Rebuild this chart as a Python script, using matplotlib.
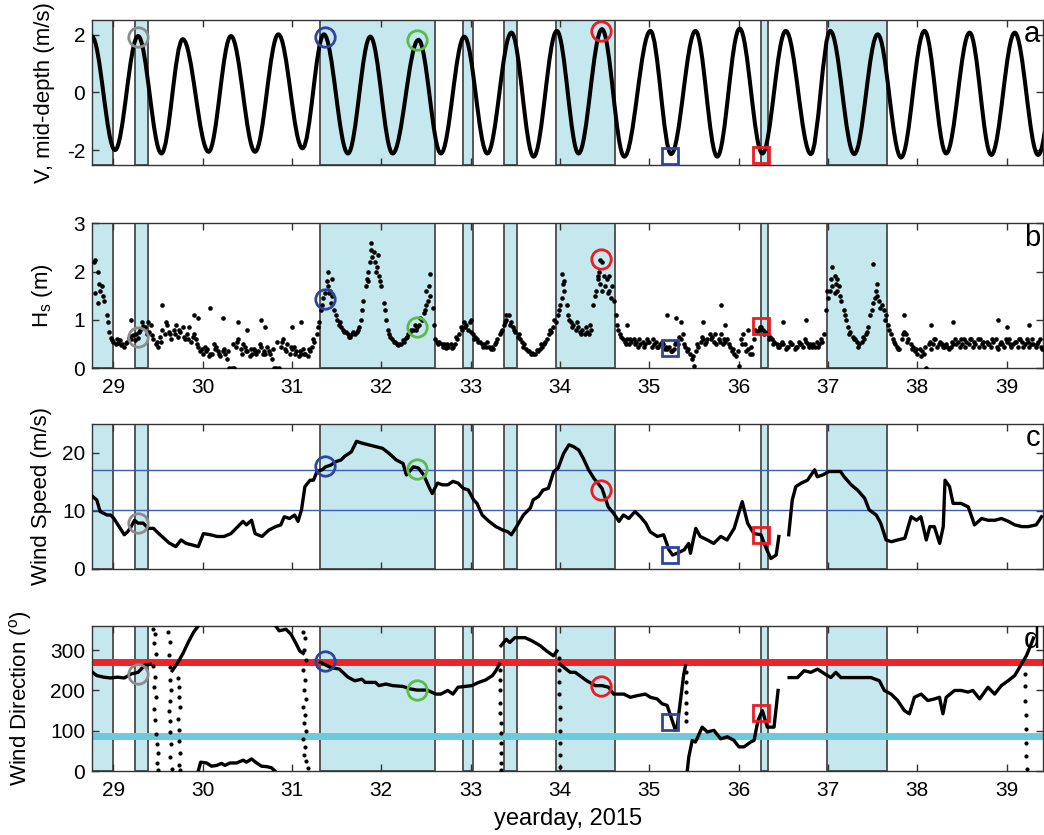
import numpy as np
import matplotlib
matplotlib.use('Agg')
import matplotlib.pyplot as plt
from matplotlib.path import Path
from matplotlib.patches import PathPatch

plt.rcParams['font.family'] = ['Liberation Sans', 'DejaVu Sans']
plt.rcParams['axes.unicode_minus'] = False
plt.rcParams['mathtext.fontset'] = 'custom'
plt.rcParams['mathtext.rm'] = 'Liberation Sans'
plt.rcParams['mathtext.it'] = 'Liberation Sans:italic'

# ---------------- data ----------------
XLIM = (28.765, 39.406)
xticks = list(range(29, 40))

shade_start = [28.60, 29.245, 31.31, 32.91, 33.375, 33.96, 36.255, 36.99]
shade_end = [29.00, 29.39, 32.60, 33.03, 33.515, 34.615, 36.33, 37.655]

# (a) mid-depth velocity: times and values of successive extrema
v_ext_t = [28.76, 29.019, 29.277, 29.539, 29.778, 30.067, 30.317, 30.587, 30.848,
           31.118, 31.357, 31.627, 31.877, 32.127, 32.416, 32.667, 32.929, 33.187,
           33.456, 33.705, 33.965, 34.208, 34.47, 34.72, 35.012, 35.244, 35.517,
           35.76, 36.011, 36.265, 36.527, 36.808, 37.025, 37.294, 37.556, 37.818,
           38.08, 38.323, 38.585, 38.828, 39.09, 39.352, 39.61]
v_ext_v = [1.95, -2.0, 1.96, -2.12, 1.85, -2.06, 1.96, -2.06, 2.02,
           -1.94, 2.02, -2.12, 1.94, -2.12, 1.83, -2.12, 1.94, -2.12,
           2.08, -2.23, 2.14, -2.12, 2.2, -2.23, 2.14, -2.14, 2.14,
           -2.23, 2.22, -2.12, 2.14, -2.14, 2.14, -2.14, 2.02, -2.26,
           2.14, -2.12, 2.08, -2.17, 2.08, -2.17, 2.0]

# (b) significant wave height, every 0.05 day from 28.80
hs_t0 = 28.80
hs_dt = 0.05
hs_v = [1.55, 1.6, 1.4, 0.75, 0.55, 0.52, 0.5, 0.55, 0.6, 0.7,
        0.8, 0.85, 0.75, 0.6, 0.45, 0.8, 0.9, 0.6, 0.9, 0.75,
        0.6, 0.85, 0.7, 0.45, 0.3, 0.4, 0.3, 0.45, 0.25, 0.3,
        0.0, 0.0, 0.6, 0.5, 0.35, 0.3, 0.3, 0.45, 0.3, 0.3,
        0.0, 0.0, 0.6, 0.5, 0.4, 0.35, 0.3, 0.3, 0.35, 0.55,
        0.95, 1.45, 1.7, 1.5, 1.0, 0.85, 0.75, 0.65, 0.7, 0.85,
        1.4, 2.0, 2.3, 2.1, 1.7, 1.0, 0.65, 0.55, 0.5, 0.55,
        0.7, 0.8, 0.85, 1.0, 1.3, 1.5, 0.6, 0.55, 0.5, 0.45,
        0.45, 0.6, 0.8, 0.9, 0.75, 0.65, 0.55, 0.5, 0.45, 0.4,
        0.6, 0.8, 1.0, 0.95, 0.75, 0.6, 0.5, 0.35, 0.3, 0.35,
        0.45, 0.6, 0.75, 0.95, 1.3, 1.6, 1.0, 0.9, 0.85, 0.8,
        0.75, 0.8, 1.6, 1.75, 1.7, 1.6, 1.4, 0.8, 0.6, 0.6,
        0.55, 0.55, 0.5, 0.5, 0.55, 0.5, 0.45, 0.5, 0.4, 0.35,
        0.55, 0.6, 0.45, 0.3, 0.05, 0.45, 0.6, 0.6, 0.65, 0.5,
        0.7, 0.55, 0.45, 0.3, 0.05, 0.7, 0.4, 0.3, 0.75, 0.85,
        0.75, 0.65, 0.55, 0.45, 0.5, 0.45, 0.5, 0.45, 0.5, 0.55,
        0.5, 0.45, 0.5, 0.7, 1.45, 1.7, 1.6, 1.4, 1.0, 0.75,
        0.6, 0.5, 0.6, 0.85, 1.35, 1.5, 1.3, 1.1, 0.7, 0.5,
        0.4, 0.75, 0.6, 0.45, 0.3, 0.35, 0.0, 0.4, 0.6, 0.55,
        0.45, 0.4, 0.5, 0.55, 0.5, 0.55, 0.6, 0.5, 0.6, 0.45,
        0.5, 0.55, 0.4, 0.5, 0.55, 0.45, 0.55, 0.6, 0.5, 0.45,
        0.5, 0.55, 0.4]
# second set of Hs samples, half-way between the ones above (from 28.825)
hs2_t0 = 28.825
hs2_v = [1.35, 1.7, 1.1, 0.62, 0.5, 0.58, 0.45, 0.62, 0.68, 0.62,
         0.95, 0.7, 0.9, 0.5, 0.65, 0.7, 0.75, 0.8, 0.65, 0.85,
         0.7, 0.55, 0.6, 0.35, 0.45, 0.25, 0.5, 0.35, 0.35, 0.2,
         0.0, 0.45, 0.4, 0.45, 0.25, 0.4, 0.35, 0.3, 0.45, 0.2,
         0.0, 0.45, 0.4, 0.3, 0.45, 0.25, 0.4, 0.25, 0.45, 0.7,
         1.2, 1.55, 1.6, 1.2, 0.9, 0.8, 0.7, 0.7, 0.75, 1.0,
         1.7, 2.2, 2.2, 1.9, 1.35, 0.8, 0.6, 0.5, 0.5, 0.62,
         0.75, 0.9, 0.9, 1.15, 1.4, 1.25, 0.55, 0.5, 0.42, 0.5,
         0.5, 0.7, 0.95, 0.8, 0.7, 0.6, 0.5, 0.45, 0.4, 0.5,
         0.7, 0.9, 1.1, 0.85, 0.65, 0.55, 0.4, 0.3, 0.3, 0.4,
         0.5, 0.7, 0.85, 1.1, 1.45, 1.3, 0.95, 0.8, 0.75, 0.72,
         0.7, 1.3, 1.85, 1.6, 1.85, 1.45, 1.1, 0.7, 0.55, 0.5,
         0.6, 0.45, 0.55, 0.6, 0.45, 0.55, 0.5, 0.4, 0.45, 0.4,
         0.5, 0.7, 0.35, 0.2, 0.35, 0.55, 0.5, 0.7, 0.55, 0.6,
         0.5, 0.6, 0.35, 0.25, 0.6, 0.5, 0.3, 0.6, 0.8, 0.8,
         0.7, 0.6, 0.5, 0.5, 0.4, 0.55, 0.4, 0.55, 0.45, 0.5,
         0.45, 0.55, 0.6, 1.2, 1.6, 1.55, 1.7, 1.2, 0.85, 0.65,
         0.55, 0.55, 0.7, 1.1, 1.45, 1.4, 1.2, 0.9, 0.6, 0.45,
         0.6, 0.7, 0.5, 0.35, 0.4, 0.3, 0.5, 0.5, 0.45, 0.5,
         0.5, 0.45, 0.6, 0.45, 0.6, 0.5, 0.45, 0.6, 0.5, 0.55,
         0.45, 0.6, 0.5, 0.45, 0.6, 0.5, 0.45, 0.55, 0.6, 0.5,
         0.45, 0.6]
# third set of Hs samples (from 28.8375), the other side of the cloud
hs3_t0 = 28.8375
hs3_v = [1.75, 1.5, 0.95, 0.58, 0.6, 0.48, 0.52, 0.66, 0.58, 0.75,
         0.88, 0.95, 0.68, 0.55, 0.55, 0.95, 0.72, 0.7, 0.8, 0.65,
         0.6, 0.65, 0.5, 0.4, 0.35, 0.3, 0.4, 0.3, 0.4, 0.35,
         0.5, 0.55, 0.3, 0.35, 0.4, 0.35, 0.5, 0.35, 0.35, 0.4,
         0.55, 0.55, 0.35, 0.45, 0.3, 0.35, 0.3, 0.4, 0.6, 0.85,
         1.3, 1.8, 1.35, 1.1, 0.95, 0.75, 0.65, 0.75, 0.8, 1.2,
         1.85, 2.45, 2.0, 1.8, 1.2, 0.7, 0.55, 0.48, 0.58, 0.65,
         0.8, 0.8, 1.05, 1.2, 1.7, 0.9, 0.5, 0.45, 0.5, 0.42,
         0.65, 0.85, 0.85, 0.95, 0.6, 0.55, 0.45, 0.55, 0.45, 0.55,
         0.75, 0.95, 0.9, 0.8, 0.7, 0.45, 0.35, 0.32, 0.38, 0.5,
         0.55, 0.8, 1.0, 1.2, 1.75, 1.1, 0.85, 0.95, 0.7, 0.85,
         0.9, 1.5, 2.0, 1.9, 1.55, 1.7, 0.9, 0.65, 0.5, 0.6,
         0.5, 0.6, 0.45, 0.55, 0.6, 0.45, 0.55, 0.45, 0.35, 0.5,
         0.65, 0.5, 0.4, 0.25, 0.5, 0.65, 0.55, 0.6, 0.7, 0.55,
         0.6, 0.5, 0.4, 0.35, 0.5, 0.35, 0.45, 0.8, 0.85, 0.7,
         0.6, 0.5, 0.45, 0.55, 0.45, 0.5, 0.45, 0.5, 0.6, 0.45,
         0.5, 0.45, 0.55, 1.6, 1.85, 1.75, 1.5, 1.1, 0.7, 0.6,
         0.45, 0.65, 0.75, 1.2, 1.6, 1.25, 1.0, 0.8, 0.55, 0.4,
         0.7, 0.55, 0.4, 0.4, 0.25, 0.45, 0.55, 0.6, 0.5, 0.45,
         0.45, 0.55, 0.5, 0.6, 0.45, 0.6, 0.55, 0.45, 0.55, 0.5,
         0.6, 0.45, 0.55, 0.6, 0.5, 0.55, 0.6, 0.45, 0.55, 0.6,
         0.5, 0.45]
# scattered Hs points off the main cloud
hs_out_t = [28.78, 28.80, 28.83, 29.20, 29.55, 29.90, 29.95, 30.08, 30.23, 30.40,
            30.50, 30.65, 30.70, 31.00, 31.10, 31.40, 31.45, 31.42, 31.88, 31.92,
            31.96, 31.85, 32.55, 32.50, 33.00, 33.40, 34.02, 34.05, 34.45, 34.47,
            34.42, 34.55, 34.75, 35.20, 35.30, 35.35, 35.60, 35.80, 35.85, 36.10,
            36.50, 36.75, 37.05, 37.08, 37.10, 37.50, 37.55, 37.85, 38.15, 38.40,
            38.90, 39.00, 39.25]
hs_out_v = [2.2, 2.25, 2.0, 1.0, 1.3, 1.1, 1.05, 1.25, 1.05, 0.95,
            0.8, 1.0, 0.85, 0.85, 0.95, 2.0, 1.85, 1.55, 2.6, 2.4,
            2.35, 1.8, 1.95, 1.6, 1.0, 1.1, 1.95, 1.8, 2.25, 2.2,
            1.9, 1.9, 0.9, 1.1, 1.05, 0.95, 0.95, 1.3, 0.9, 0.8,
            0.95, 1.0, 2.1, 1.9, 1.85, 2.15, 1.75, 1.1, 0.9, 0.95,
            1.0, 0.85, 0.9]

# (c) wind speed
ws_t = [28.768, 28.815, 28.853, 28.892, 28.93, 28.969, 29.007, 29.065, 29.123, 29.161,
        29.2, 29.238, 29.277, 29.335, 29.392, 29.45, 29.489, 29.546, 29.623, 29.7,
        29.758, 29.816, 29.893, 29.951, 30.009, 30.086, 30.163, 30.24, 30.317, 30.394,
        30.452, 30.49, 30.548, 30.587, 30.664, 30.741, 30.818, 30.875, 30.914, 30.972,
        31.03, 31.068, 31.107, 31.145, 31.203, 31.241, 31.28, 31.338, 31.376, 31.434,
        31.492, 31.55, 31.588, 31.665, 31.723, 31.781, 31.858, 31.935, 32.012, 32.089,
        32.166, 32.243, 32.281, 32.358, 32.416, 32.474, 32.532, 32.57, 32.628, 32.686,
        32.744, 32.802, 32.859, 32.917, 32.975, 33.033, 33.071, 33.129, 33.206, 33.283,
        33.36, 33.418, 33.456, 33.514, 33.591, 33.668, 33.70, 33.76, 33.81, 33.87,
        33.93, 33.98, 34.04, 34.10, 34.15, 34.21, 34.26, 34.32, 34.38, 34.47,
        34.54, 34.60, 34.66, 34.71, 34.77, 34.84, 34.90, 34.96, 35.01, 35.09,
        35.16, 35.22, 35.26, 35.31, 35.39, 35.44, 35.46, 35.52, 35.57, 35.65,
        35.72, 35.80, 35.87, 35.95, 36.00, 36.04, 36.10, 36.17, 36.25, 36.30,
        36.36, 36.42, 36.45, 36.50, 36.56, 36.60, 36.64, 36.70, 36.77, 36.85,
        36.88, 36.94, 37.01, 37.09, 37.14, 37.18, 37.26, 37.33, 37.41, 37.46,
        37.54, 37.59, 37.65, 37.71, 37.78, 37.86, 37.93, 37.99, 38.04, 38.10,
        38.14, 38.19, 38.25, 38.29, 38.31, 38.36, 38.40, 38.49, 38.57, 38.64,
        38.72, 38.79, 38.87, 38.94, 39.02, 39.09, 39.17, 39.24, 39.33, 39.39]
ws_v = [12.5, 11.9, 9.9, 9.6, 9.3, 9.3, 8.7, 7.3, 5.9, 6.4,
        7.3, 8.4, 7.9, 7.9, 7.0, 7.0, 6.4, 5.6, 4.5, 3.85,
        5.0, 4.4, 4.1, 3.85, 6.1, 5.9, 5.6, 5.6, 6.1, 7.3,
        8.2, 7.6, 8.4, 6.1, 5.6, 6.7, 7.3, 7.6, 9.0, 8.7,
        9.3, 8.2, 10.2, 14.2, 15.3, 15.3, 16.8, 17.1, 17.6, 17.9,
        18.5, 18.8, 19.4, 20.2, 22.0, 21.7, 21.4, 21.1, 20.8, 19.9,
        18.8, 18.2, 16.2, 17.6, 17.4, 16.2, 14.2, 13.0, 14.8, 14.5,
        14.5, 15.1, 14.8, 13.9, 13.6, 11.9, 11.3, 9.3, 8.2, 7.3,
        6.7, 6.4, 5.9, 7.3, 9.3, 10.5, 11.9, 12.5, 13.6, 13.9,
        16.8, 17.4, 19.9, 21.4, 21.1, 20.5, 19.1, 17.1, 15.6, 13.9,
        10.7, 9.6, 8.2, 9.3, 8.7, 9.9, 9.0, 7.9, 6.4, 5.6,
        5.9, 3.3, 2.4, 2.7, 3.3, 4.4, 2.7, 7.0, 5.6, 5.0,
        4.4, 5.6, 5.0, 7.0, 9.6, 11.6, 7.9, 6.1, 5.9, 3.85,
        1.8, 2.4, 5.6, np.nan, 5.9, 11.9, 14.2, 14.8, 15.3, 17.1,
        15.9, 16.2, 16.8, 16.8, 16.8, 15.9, 14.5, 13.6, 12.2, 10.2,
        9.3, 7.9, 5.0, 4.7, 5.0, 5.3, 9.0, 8.4, 9.0, 5.0,
        7.3, 7.3, 4.4, 7.3, 15.3, 14.2, 11.3, 11.3, 10.7, 7.6,
        8.7, 8.4, 8.4, 8.7, 8.2, 7.6, 7.3, 7.3, 7.6, 9.0]
ws_ref_levels = [17.1, 10.2]

# (d) wind direction (continuous parts, NaN = break)
wd_t = [28.768, 28.815, 28.892, 28.969, 29.046, 29.123, 29.20, 29.277, 29.354, 29.412, np.nan,
        29.66, 29.70, 29.74, 29.78, 29.84, 29.90, 29.95, np.nan,
        29.951, 29.978, 30.044, 30.10, 30.157, 30.212, 30.25, 30.305, 30.38, 30.454,
        30.49, 30.548, 30.604, 30.66, 30.716, 30.772, 30.809, np.nan,
        30.818, 30.856, 30.933, 30.991, 31.049, 31.087, 31.126, np.nan,
        31.318, 31.434, 31.53, 31.627, 31.704, 31.781, 31.819, 31.935, 31.973, 32.05,
        32.127, 32.243, 32.32, 32.397, 32.513, 32.609, 32.667, 32.744, 32.802, 32.859,
        32.936, 33.013, 33.09, 33.167, 33.244, 33.283, 33.321, np.nan,
        33.34, 33.398, 33.437, 33.495, 33.61, 33.687, 33.78, 33.85, 33.927, 33.965, np.nan,
        34.002, 34.114, 34.17, 34.301, 34.395, 34.47, 34.544, 34.60, 34.713, 34.788,
        34.862, 34.956, 35.012, 35.087, 35.143, 35.199, 35.255, 35.293, 35.311, 35.349,
        35.386, 35.405, np.nan,
        35.424, 35.442, 35.48, 35.517, 35.592, 35.648, 35.723, 35.798, 35.873, 35.947,
        36.003, 36.06, 36.134, 36.172, 36.217, 36.265, 36.321, 36.396, 36.441, np.nan,
        36.565, 36.658, 36.733, 36.808, 36.883, 36.957, 37.032, 37.088, 37.144, 37.294,
        37.481, 37.575, 37.631, 37.706, 37.78, 37.855, 37.911, 37.967, 38.042, 38.117,
        38.192, 38.248, 38.286, 38.323, 38.417, 38.491, 38.566, 38.622, 38.697, 38.791,
        38.865, 38.94, 39.015, 39.09, 39.165, 39.22, 39.258, 39.30]
wd_v = [245, 237, 233, 231, 233, 231, 241, 245, 263, 265, np.nan,
        249, 262, 276, 292, 320, 345, 360, np.nan,
        0, 22, 20, 12, 14, 19, 14, 20, 20, 27,
        22, 30, 20, 12, 11, 8, 0, np.nan,
        360, 348, 352, 339, 315, 298, 292, np.nan,
        270, 257, 253, 233, 224, 228, 220, 220, 212, 216,
        212, 210, 204, 201, 201, 191, 191, 200, 191, 208,
        210, 212, 220, 226, 237, 249, 265, np.nan,
        311, 327, 319, 331, 331, 323, 311, 298, 286, 298, np.nan,
        265, 245, 245, 224, 212, 212, 208, 191, 191, 183,
        187, 191, 183, 179, 167, 163, 126, 101, 109, 175,
        241, 261, np.nan,
        0, 35, 76, 72, 109, 97, 101, 80, 85, 76,
        60, 60, 72, 76, 126, 150, 109, 109, 200, np.nan,
        232, 232, 249, 245, 253, 242, 232, 245, 232, 232,
        232, 224, 200, 191, 175, 150, 142, 183, 191, 175,
        179, 183, 142, 183, 200, 200, 196, 200, 179, 208,
        191, 212, 224, 237, 265, 286, 306, 330]
# scattered direction samples during rapid wrap-arounds
wd_dot_t = [29.45, 29.47, 29.46, 29.48, 29.45, 29.47, 29.46, 29.48, 29.46, 29.47, 29.48, 29.49, 29.50, 29.49, 29.50,
            29.61, 29.63, 29.62, 29.64, 29.63, 29.65, 29.64, 29.62, 29.64, 29.63, 29.65, 29.64, 29.66,
            29.72, 29.74, 29.73, 29.75, 29.72, 29.74, 29.73, 29.75, 29.74, 29.75,
            31.12, 31.15, 31.13, 31.16, 31.12, 31.15, 31.13, 31.16, 31.12, 31.15, 31.13, 31.16, 31.12, 31.15, 31.13, 31.16, 31.18,
            33.33, 33.33, 33.33, 33.33, 33.33, 33.34, 33.34, 33.34, 33.34, 33.34, 33.34,
            33.99, 33.99, 33.99, 33.99, 34.00, 34.00, 34.00, 34.00, 34.00, 34.00,
            35.41, 35.41, 35.41, 35.41, 35.41, 35.41,
            39.21, 39.21, 39.21, 39.22, 39.22, 39.22, 39.22, 39.23]
wd_dot_v = [352, 339, 319, 290, 261, 233, 208, 183, 154, 126, 93, 68, 44, 19, 3,
            345, 320, 287, 258, 225, 200, 175, 150, 125, 96, 68, 35, 6,
            232, 208, 183, 158, 130, 102, 75, 44, 15, 3,
            345, 330, 300, 275, 250, 225, 200, 180, 160, 140, 120, 100, 80, 60, 40, 25, 8,
            250, 225, 200, 170, 145, 120, 95, 70, 45, 20, 2,
            280, 250, 220, 190, 160, 130, 100, 70, 40, 10,
            245, 220, 195, 170, 145, 125,
            240, 210, 175, 140, 105, 70, 38, 5]
wd_ref_west = 271
wd_ref_east = 88

# highlighted times and their values in each panel
mk_t = [29.274, 31.375, 32.405, 34.462, 35.236, 36.255]
mk_colors = ['#8C8C8C', '#2E45A0', '#5CBB45', '#EC1C24', '#2E45A0', '#EC1C24']
mk_shapes = ['o', 'o', 'o', 'o', 's', 's']
mk_a = [1.94, 1.94, 1.83, 2.14, -2.2, -2.17]
mk_b = [0.655, 1.43, 0.86, 2.26, 0.41, 0.88]
mk_c = [7.9, 17.8, 17.3, 13.6, 2.4, 5.8]
mk_d = [242, 272, 201, 212, 122, 144]

panel_letters = ['a', 'b', 'c', 'd']
ylabels = ['V, mid-depth (m/s)', r'H$_{\rm s}$ (m)', 'Wind Speed (m/s)',
           r'Wind Direction ($^{\rm o}$)']
ylims = [(-2.52, 2.52), (0, 3), (0, 25), (0, 360)]
yticks = [[-2, 0, 2], [0, 1, 2, 3], [0, 10, 20], [0, 100, 200, 300]]
xlabel = 'yearday, 2015'

# ---------------- figure ----------------
fig = plt.figure(figsize=(10.44, 8.35), dpi=100)
L, W, H = 0.0884, 0.9106, 0.1737
bottoms = [0.8024, 0.5589, 0.3186, 0.0766]
axs = [fig.add_axes([L, b, W, H]) for b in bottoms]
label_x = [-0.039, -0.039, -0.0427, -0.0609]

for i, ax in enumerate(axs):
    ax.set_xlim(XLIM)
    ax.set_ylim(ylims[i])
    for s0, s1 in zip(shade_start, shade_end):
        ax.axvspan(s0, s1, facecolor='#C5E8EE', edgecolor='#4A4A4A', lw=1.3, zorder=0.5)
    ax.set_xticks(xticks)
    ax.set_yticks(yticks[i])
    ax.tick_params(direction='in', top=True, right=True, length=5, width=1,
                   labelsize=15, color='#333333', pad=5)
    ax.tick_params(axis='x', pad=7)
    if i in (0, 2):
        ax.set_xticklabels([])
    for sp in ax.spines.values():
        sp.set_linewidth(1.0)
        sp.set_color('#333333')
    ax.set_ylabel(ylabels[i], fontsize=16)
    ax.yaxis.set_label_coords(label_x[i], 0.5)
    ax.text(0.997, 0.845, panel_letters[i], transform=ax.transAxes, ha='right',
            va='baseline', fontsize=21, zorder=6)

# (a) smooth curve through successive extrema
k = 0.3642
verts = [(v_ext_t[0], v_ext_v[0])]
codes = [Path.MOVETO]
for j in range(len(v_ext_t) - 1):
    t0, t1 = v_ext_t[j], v_ext_t[j + 1]
    y0, y1 = v_ext_v[j], v_ext_v[j + 1]
    dt = t1 - t0
    verts += [(t0 + k * dt, y0), (t1 - k * dt, y1), (t1, y1)]
    codes += [Path.CURVE4] * 3
axs[0].add_patch(PathPatch(Path(verts, codes), fill=False, edgecolor='black',
                           lw=2.9, joinstyle='round', capstyle='round', zorder=3))

# (b) wave height dots
hs_t = hs_t0 + hs_dt * np.arange(len(hs_v))
hs2_t = hs2_t0 + hs_dt * np.arange(len(hs2_v))
hs3_t = hs3_t0 + hs_dt * np.arange(len(hs3_v))
dot_kw = dict(linestyle='none', marker='o', color='black', ms=3.3, mew=0, zorder=3)
axs[1].plot(hs_t, hs_v, **dot_kw)
axs[1].plot(hs2_t, hs2_v, **dot_kw)
axs[1].plot(hs3_t, hs3_v, **dot_kw)
axs[1].plot(hs_out_t, hs_out_v, **dot_kw)

# (c) wind speed
for lev in ws_ref_levels:
    axs[2].axhline(lev, color='#3C5DB8', lw=1.0, zorder=2)
axs[2].plot(ws_t, ws_v, color='black', lw=2.4, zorder=3)

# (d) wind direction
axs[3].axhline(wd_ref_west, color='#EE2229', lw=5, zorder=2)
axs[3].axhline(wd_ref_east, color='#6BCBDD', lw=5, zorder=2)
axs[3].plot(wd_t, wd_v, color='black', lw=2.4, zorder=3)
axs[3].plot(wd_dot_t, wd_dot_v, linestyle='none', marker='o', color='black',
            ms=3.0, mew=0, zorder=3)

# highlighted markers
for ax, vals in zip(axs, [mk_a, mk_b, mk_c, mk_d]):
    for t, v, c, m in zip(mk_t, vals, mk_colors, mk_shapes):
        ax.plot([t], [v], m, mfc='none', mec=c, mew=2.0,
                ms=14 if m == 'o' else 12, zorder=5, clip_on=False)

fig.text((L + W / 2), 1 - 825 / 835, xlabel, ha='center', va='baseline', fontsize=17)

fig.savefig('out.png', dpi=100)
